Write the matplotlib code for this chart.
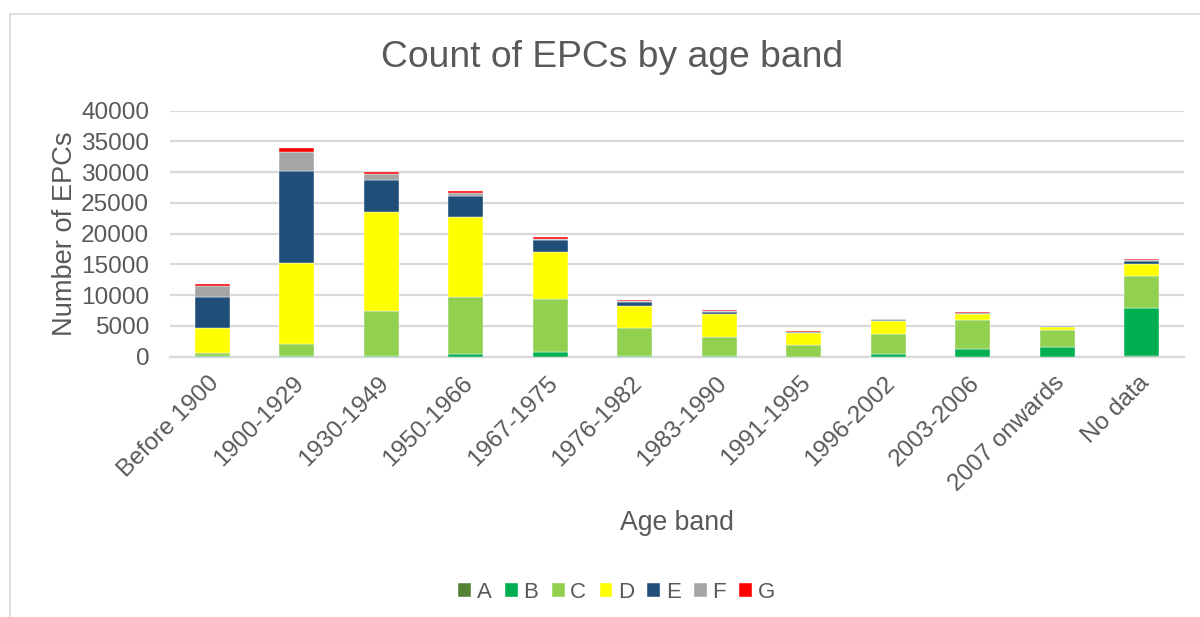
import matplotlib
matplotlib.use("Agg")
import matplotlib.pyplot as plt
import matplotlib.transforms as mtransforms
from matplotlib.lines import Line2D
import numpy as np

plt.rcParams['font.family'] = ['Liberation Sans', 'DejaVu Sans']

age_bands = ["Before 1900", "1900-1929", "1930-1949", "1950-1966", "1967-1975",
             "1976-1982", "1983-1990", "1991-1995", "1996-2002", "2003-2006",
             "2007 onwards", "No data"]

band_A = [0, 0, 0, 0, 0, 0, 0, 0, 0, 0, 30, 150]
band_B = [50, 100, 100, 440, 710, 100, 50, 30, 490, 1300, 1620, 7800]
band_C = [550, 2000, 7320, 9300, 8700, 4610, 3150, 1820, 3250, 4700, 2760, 5200]
band_D = [4100, 13050, 16100, 12930, 7530, 3570, 3730, 2000, 2100, 980, 490, 1950]
band_E = [5050, 15000, 5260, 3410, 2000, 650, 370, 160, 160, 100, 60, 430]
band_F = [1700, 3130, 910, 540, 210, 110, 120, 80, 100, 80, 50, 110]
band_G = [350, 700, 280, 270, 280, 160, 160, 30, 50, 40, 20, 160]

ratings = ["A", "B", "C", "D", "E", "F", "G"]
series = [band_A, band_B, band_C, band_D, band_E, band_F, band_G]
colors = ["#548235", "#00B050", "#92D050", "#FFFF00", "#1F4E79", "#A5A5A5", "#FF0000"]

text_color = "#595959"
grid_color = "#D9D9D9"

fig = plt.figure(figsize=(12, 6.17), dpi=100)
ax = fig.add_axes([0.1417, 0.4219, 0.845, 0.399])

x = np.arange(len(age_bands))
bottom = np.zeros(len(age_bands))
handles = []
for name, vals, col in zip(ratings, series, colors):
    v = np.array(vals, dtype=float)
    b = ax.bar(x, v, width=0.41, bottom=bottom, color=col, label=name,
               edgecolor="white", linewidth=0.3, zorder=3)
    bottom += v
    handles.append(b)

ax.set_xlim(-0.5, len(age_bands) - 0.5)
ax.set_ylim(0, 40000)
ax.set_yticks(np.arange(0, 40001, 5000))
ax.yaxis.grid(True, color=grid_color, linewidth=1.6, zorder=0)
ax.set_axisbelow(True)
for s in ["top", "right", "left"]:
    ax.spines[s].set_visible(False)
ax.spines["bottom"].set_color(grid_color)
ax.spines["bottom"].set_linewidth(1.6)
ax.tick_params(axis="both", length=0, colors=text_color, labelsize=17.6)
ax.tick_params(axis="y", pad=15)
ax.set_xticks(x)
ax.set_xticklabels(age_bands, rotation=45, ha="right", rotation_mode="anchor")
ax.tick_params(axis="x", pad=11)
shift = mtransforms.ScaledTranslation(-4 / 100, 0, fig.dpi_scale_trans)
for lbl in ax.get_xticklabels():
    lbl.set_transform(lbl.get_transform() + shift)

ax.set_ylabel("Number of EPCs", color=text_color, fontsize=19.6, labelpad=2)
ax.set_xlabel("Age band", color=text_color, fontsize=19.2, labelpad=10)

fig.text(0.51, 0.906, "Count of EPCs by age band", ha="center", va="center",
         color=text_color, fontsize=26.8)

fig.legend(handles=handles, labels=ratings, loc="center", ncol=7,
           bbox_to_anchor=(0.514, 0.040), frameon=False, fontsize=16,
           labelcolor=text_color, handlelength=0.58, handleheight=0.58,
           handletextpad=0.25, columnspacing=0.6)

# chart frame
fig.add_artist(Line2D([10 / 1200, 10 / 1200], [0, 1 - 14 / 617],
                      transform=fig.transFigure, color=grid_color, linewidth=1.2))
fig.add_artist(Line2D([10 / 1200, 1], [1 - 14 / 617, 1 - 14 / 617],
                      transform=fig.transFigure, color=grid_color, linewidth=1.2))

fig.savefig("out.png", dpi=100, facecolor="white")
